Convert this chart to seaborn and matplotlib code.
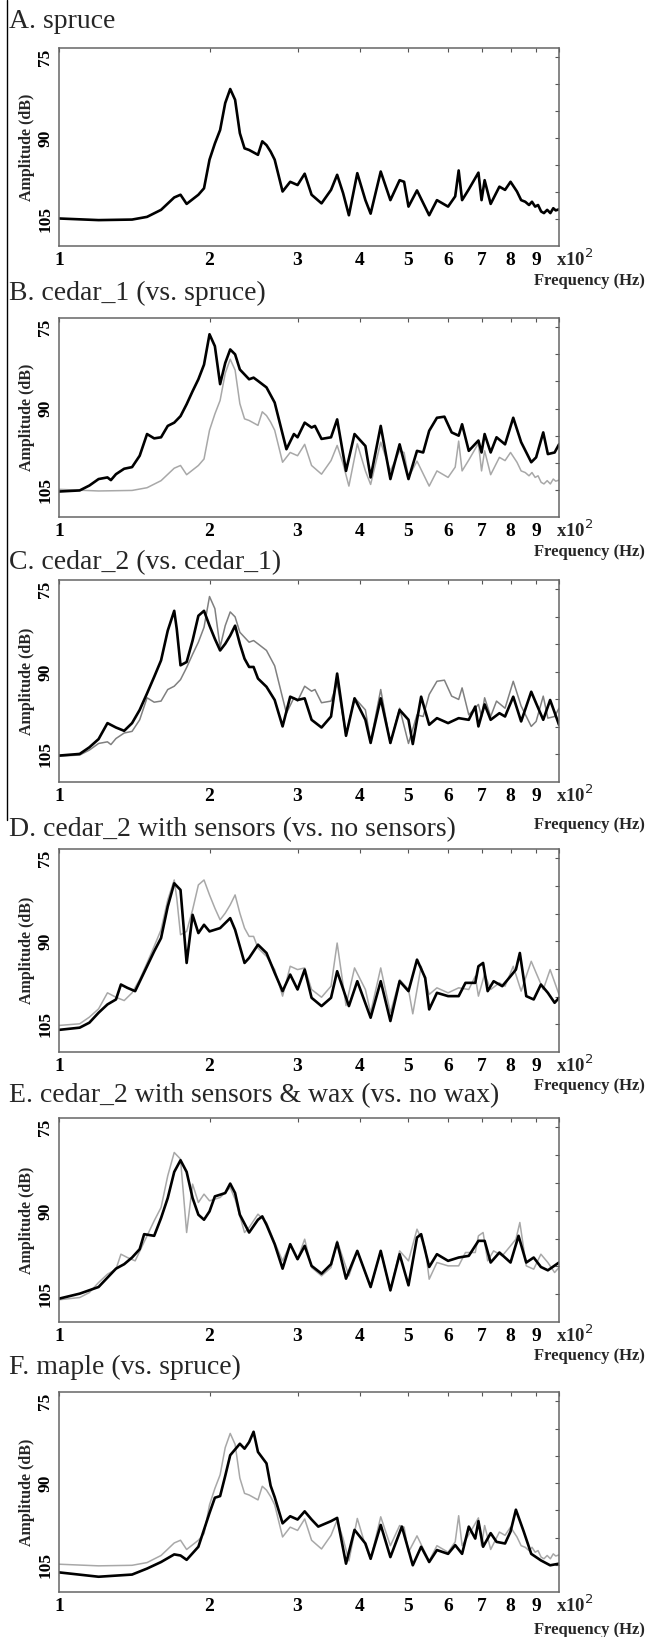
import numpy as np
import pandas as pd
import matplotlib
matplotlib.use("Agg")
import matplotlib.pyplot as plt
from matplotlib.lines import Line2D
import seaborn as sns

# frequency in units of x10^2 Hz, amplitude in dB (axis is inverted)
spruce_hz = [1.0, 1.2, 1.4, 1.5, 1.6, 1.7, 1.75, 1.8, 1.9, 1.95, 2.0, 2.05, 2.1, 2.15, 2.2, 2.25, 2.3,
             2.35, 2.4, 2.5, 2.55, 2.6, 2.65, 2.7, 2.8, 2.9, 3.0, 3.1, 3.2, 3.35, 3.5, 3.6, 3.7, 3.8,
             3.95, 4.1, 4.2, 4.4, 4.6, 4.8, 4.9, 5.0, 5.2, 5.5, 5.7, 6.0, 6.2, 6.3, 6.4, 6.6, 6.9,
             7.0, 7.1, 7.3, 7.6, 7.8, 8.0, 8.24, 8.4, 8.56, 8.71, 8.83, 8.96, 9.08, 9.21, 9.33,
             9.47, 9.61, 9.74, 9.85, 10.0]
spruce_db = [104.9, 105.2, 105.1, 104.6, 103.3, 101.0, 100.5, 102.2, 100.5, 99.3, 94.0, 91.0, 88.5,
             83.5, 80.9, 82.9, 89.1, 91.9, 92.2, 93.1, 90.6, 91.3, 92.5, 94.0, 99.9, 98.1, 98.7, 96.6,
             100.5, 102.1, 99.6, 96.8, 100.2, 104.3, 96.5, 101.5, 104.0, 96.2, 101.5, 97.8, 98.1,
             102.7, 99.7, 104.3, 101.5, 102.7, 100.8, 96.0, 101.5, 99.5, 96.4, 101.5, 97.8, 102.2,
             99.0, 99.6, 98.1, 99.9, 101.5, 101.8, 102.4, 101.8, 102.7, 102.4, 103.6, 103.9,
             103.3, 103.9, 103.0, 103.4, 103.2]

cedar1_hz = [1.0, 1.1, 1.15, 1.2, 1.25, 1.27, 1.3, 1.35, 1.4, 1.45, 1.5, 1.55, 1.6, 1.65, 1.7, 1.75,
             1.8, 1.85, 1.9, 1.95, 2.0, 2.05, 2.1, 2.15, 2.2, 2.25, 2.3, 2.4, 2.45, 2.5, 2.6, 2.7,
             2.8, 2.85, 2.95, 3.0, 3.1, 3.2, 3.25, 3.35, 3.5, 3.6, 3.75, 3.9, 4.1, 4.2, 4.4, 4.6,
             4.8, 5.0, 5.2, 5.35, 5.5, 5.7, 5.9, 6.1, 6.3, 6.4, 6.6, 6.9, 7.0, 7.1, 7.3, 7.5, 7.8,
             8.1, 8.4, 8.8, 9.0, 9.3, 9.5, 9.8, 10.0]
cedar1_db = [105.3, 105.1, 104.2, 103.0, 102.7, 103.2, 102.1, 101.1, 100.8, 98.7, 94.7, 95.5, 95.3,
             93.2, 92.6, 91.4, 89.2, 86.8, 84.6, 81.9, 76.3, 78.5, 85.5, 81.6, 79.1, 80.0, 82.8, 84.6,
             84.3, 84.9, 86.1, 88.9, 94.7, 97.5, 94.7, 95.3, 92.6, 93.5, 93.2, 95.6, 95.3, 92.0,
             101.5, 94.7, 96.9, 102.7, 93.2, 103.0, 96.6, 103.0, 97.8, 98.1, 94.1, 91.7, 91.5, 94.4,
             95.0, 92.9, 97.8, 95.9, 98.1, 94.7, 98.1, 95.3, 96.6, 91.7, 96.2, 99.9, 99.0, 94.4,
             98.4, 98.1, 96.6]

cedar2_hz = [1.0, 1.1, 1.15, 1.2, 1.25, 1.3, 1.35, 1.4, 1.45, 1.5, 1.55, 1.6, 1.65, 1.7, 1.72, 1.75,
             1.8, 1.85, 1.9, 1.95, 2.0, 2.05, 2.1, 2.15, 2.2, 2.25, 2.3, 2.35, 2.4, 2.45, 2.5, 2.6,
             2.7, 2.8, 2.9, 3.0, 3.1, 3.2, 3.35, 3.5, 3.6, 3.75, 3.9, 4.1, 4.2, 4.4, 4.6, 4.8, 5.0,
             5.1, 5.3, 5.5, 5.7, 6.0, 6.3, 6.6, 6.8, 6.9, 7.1, 7.3, 7.6, 7.8, 8.1, 8.4, 8.8, 9.0,
             9.3, 9.6, 10.0]
cedar2_db = [105.2, 104.9, 103.7, 102.2, 99.3, 100.1, 100.7, 99.3, 96.9, 93.9, 90.9, 87.9, 82.5, 78.9,
             82.2, 88.8, 88.2, 84.3, 79.8, 78.9, 81.6, 84.0, 86.1, 84.9, 83.4, 81.6, 84.9, 87.6, 89.1,
             89.1, 91.2, 92.7, 95.1, 99.9, 94.5, 95.1, 94.8, 98.7, 100.1, 98.1, 90.3, 101.6, 94.8,
             98.7, 102.9, 94.8, 102.9, 96.9, 98.7, 103.1, 94.5, 99.6, 98.4, 99.3, 98.4, 98.7, 96.3,
             99.9, 95.9, 98.7, 97.5, 98.1, 94.5, 99.0, 93.6, 95.7, 98.7, 95.1, 99.6]

sensors_hz = [1.0, 1.1, 1.15, 1.2, 1.25, 1.3, 1.33, 1.37, 1.42, 1.5, 1.55, 1.6, 1.65, 1.7, 1.75, 1.8,
              1.85, 1.9, 1.95, 2.0, 2.1, 2.2, 2.25, 2.35, 2.4, 2.5, 2.6, 2.7, 2.8, 2.9, 3.0, 3.1,
              3.2, 3.35, 3.5, 3.6, 3.8, 3.95, 4.2, 4.4, 4.6, 4.8, 5.0, 5.2, 5.4, 5.5, 5.7, 6.0, 6.3,
              6.5, 6.8, 6.9, 7.05, 7.2, 7.4, 7.7, 8.0, 8.2, 8.35, 8.6, 8.9, 9.2, 9.5, 9.8, 10.0]
sensors_db = [106.0, 105.6, 104.7, 102.9, 101.4, 100.5, 97.8, 98.4, 99.0, 94.5, 91.8, 89.4, 83.7,
              79.5, 80.7, 93.9, 85.2, 88.5, 87.0, 88.2, 87.6, 85.8, 87.9, 93.9, 93.0, 90.6, 92.1,
              95.7, 99.0, 96.0, 98.7, 95.1, 100.2, 101.7, 100.2, 95.4, 101.7, 97.2, 103.8, 97.2,
              104.4, 97.2, 99.0, 93.3, 96.6, 102.3, 99.3, 99.9, 99.9, 97.5, 97.5, 94.5, 93.9, 99.0,
              97.2, 98.1, 96.3, 95.1, 92.1, 99.9, 100.5, 97.8, 99.3, 101.1, 100.2]

wax_hz = [1.0, 1.1, 1.2, 1.3, 1.35, 1.4, 1.45, 1.48, 1.55, 1.6, 1.65, 1.7, 1.75, 1.8, 1.85, 1.9,
          1.95, 2.0, 2.05, 2.1, 2.15, 2.2, 2.25, 2.3, 2.4, 2.5, 2.55, 2.6, 2.7, 2.8, 2.9, 3.0, 3.1,
          3.2, 3.35, 3.5, 3.6, 3.75, 3.95, 4.2, 4.4, 4.6, 4.8, 5.0, 5.2, 5.3, 5.5, 5.7, 6.0, 6.3,
          6.6, 6.9, 7.1, 7.3, 7.6, 8.0, 8.3, 8.6, 8.9, 9.2, 9.5, 10.0]
wax_db = [105.8, 104.9, 103.7, 100.4, 99.6, 98.4, 96.9, 94.2, 94.5, 91.3, 87.7, 83.0, 80.9, 83.0, 87.7,
          90.7, 91.6, 90.1, 87.4, 87.1, 86.8, 85.1, 86.8, 90.7, 93.9, 91.6, 91.0, 92.5, 96.0, 100.4,
          96.0, 98.7, 96.3, 99.9, 101.3, 99.6, 95.7, 102.2, 97.2, 103.7, 97.2, 104.3, 97.8, 103.4,
          94.8, 94.2, 100.1, 97.8, 99.0, 98.4, 98.1, 95.4, 95.4, 99.3, 97.5, 99.3, 94.5, 99.3, 98.4,
          100.1, 100.7, 99.3]

maple_hz = [1.0, 1.2, 1.4, 1.5, 1.6, 1.7, 1.75, 1.8, 1.9, 2.0, 2.05, 2.1, 2.15, 2.2, 2.3, 2.35, 2.4,
            2.45, 2.5, 2.6, 2.65, 2.7, 2.8, 2.9, 3.0, 3.1, 3.2, 3.3, 3.5, 3.6, 3.75, 3.9, 4.1, 4.2,
            4.4, 4.6, 4.85, 5.1, 5.3, 5.5, 5.7, 6.0, 6.2, 6.4, 6.6, 6.8, 6.9, 7.05, 7.3, 7.5, 7.8,
            8.0, 8.2, 8.5, 8.8, 9.2, 9.6, 10.0]
maple_db = [106.4, 107.2, 106.8, 105.7, 104.5, 103.1, 103.3, 104.1, 101.7, 95.5, 92.7, 92.4, 88.7,
            84.9, 82.8, 83.7, 82.5, 80.6, 84.3, 86.4, 90.5, 92.6, 97.4, 96.1, 96.7, 95.2, 96.7, 98.0,
            97.0, 96.4, 104.8, 98.6, 101.1, 103.9, 97.7, 103.6, 98.0, 105.1, 101.7, 104.5, 102.3,
            103.0, 101.4, 103.0, 98.0, 100.2, 97.0, 101.7, 99.2, 100.8, 101.1, 98.9, 94.9, 98.9,
            103.0, 104.2, 105.1, 104.8]

titles = ["A. spruce", "B. cedar_1 (vs. spruce)", "C. cedar_2 (vs. cedar_1)",
          "D. cedar_2 with sensors (vs. no sensors)",
          "E. cedar_2 with sensors & wax (vs. no wax)", "F. maple (vs. spruce)"]
# (black curve, grey reference curve) per panel
panels = [((spruce_hz, spruce_db), None),
          ((cedar1_hz, cedar1_db), (spruce_hz, spruce_db)),
          ((cedar2_hz, cedar2_db), (cedar1_hz, cedar1_db)),
          ((sensors_hz, sensors_db), (cedar2_hz, cedar2_db)),
          ((wax_hz, wax_db), (sensors_hz, sensors_db)),
          ((maple_hz, maple_db), (spruce_hz, spruce_db))]

x_ticks = [1, 2, 3, 4, 5, 6, 7, 8, 9, 10]
x_labels = ["1", "2", "3", "4", "5", "6", "7", "8", "9", ""]
y_ticks = [75, 80, 85, 90, 95, 100, 105]
y_labels = ["75", "", "", "90", "", "", "105"]

sns.set_style("white")
plt.rcParams["font.family"] = ["Liberation Serif", "DejaVu Serif"]

W, H = 647, 1637
fig = plt.figure(figsize=(W / 100, H / 100), dpi=100)

# pixel layout: (axes top, axes bottom, title centre y, freq label centre y)
layout = [(48, 246, 21, 281), (318, 517, 293, 552), (580, 782, 563, 825),
          (849, 1052, 830, 1086), (1118, 1322, 1096, 1356), (1392, 1592, 1367, 1630)]
left_px, right_px = 59, 559
grey_cols = ["#a8a8a8", "#a8a8a8", "#808080", "#a8a8a8", "#a8a8a8", "#a8a8a8"]

for i, ((black, grey), title) in enumerate(zip(panels, titles)):
    top, bot, ty, fy = layout[i]
    ax = fig.add_axes([left_px / W, 1 - bot / H, (right_px - left_px) / W, (bot - top) / H])
    if grey is not None:
        sns.lineplot(x=grey[0], y=grey[1], ax=ax, color=grey_cols[i], lw=1.1, sort=False)
    sns.lineplot(x=black[0], y=black[1], ax=ax, color="black", lw=1.9, sort=False)
    ax.set_xscale("log")
    ax.set_xlim(1, 10)
    ax.set_ylim(110, 73.3)
    ax.set_xticks(x_ticks)
    ax.set_xticklabels(x_labels, fontsize=14, fontweight="bold")
    ax.minorticks_off()
    ax.set_yticks(y_ticks)
    ax.set_yticklabels(y_labels, fontsize=12.5, fontweight="bold", rotation=90, va="center")
    ax.tick_params(direction="in", length=3, width=0.8, top=True, right=True, colors="#555555",
                   labelcolor="black", pad=4)
    for s in ax.spines.values():
        s.set_color("#666666")
        s.set_linewidth(1.1)
    ax.set_xlabel("")
    ax.set_ylabel("Amplitude (dB)", fontsize=11.5, fontweight="bold", labelpad=2)
    fig.text(9 / W, 1 - ty / H, title, fontsize=20, ha="left", va="center")
    fig.text(556 / W, 1 - (bot + 13) / H, "x10$^2$", fontsize=13.5, fontweight="bold",
             ha="left", va="center")
    fig.text(645 / W, 1 - fy / H, "Frequency (Hz)", fontsize=12, fontweight="bold",
             ha="right", va="center")

fig.add_artist(Line2D([7 / W, 7 / W], [1, 1 - 820 / H], color="black", lw=1.0))

fig.savefig("out.png", dpi=100)
